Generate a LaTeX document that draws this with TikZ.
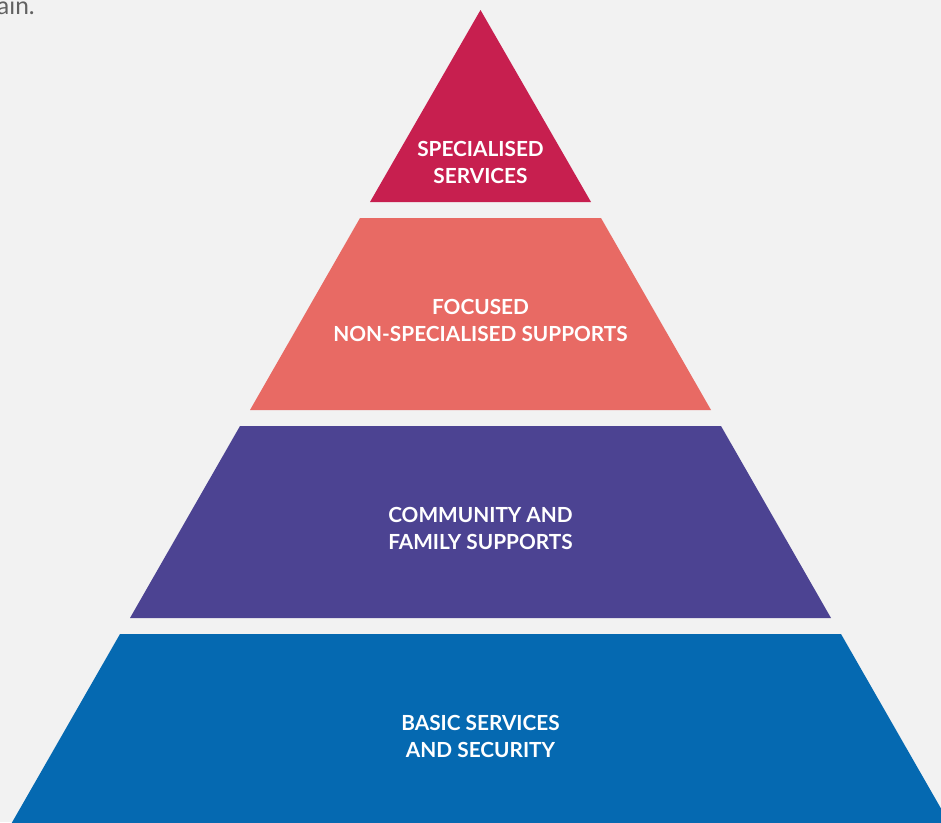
\documentclass[tikz,border=0pt]{standalone}
\usepackage{fontspec}
\setmainfont{Lato}
\usepackage{tikz}
\usetikzlibrary{calc}
\definecolor{pageback}{HTML}{F2F2F2}
\definecolor{tiertop}{HTML}{C71F4F}
\definecolor{tierfocus}{HTML}{E86A64}
\definecolor{tiercommunity}{HTML}{4C4392}
\definecolor{tierbasic}{HTML}{0569B1}
\tikzset{
	tier label/.style={text=white,align=center,font=\bfseries\fontsize{20.8}{27}\selectfont},
	lead text/.style={text=black!62,anchor=base west,inner sep=0pt,font=\fontsize{24.5}{28}\selectfont}
}

\begin{document}
\begin{tikzpicture}[x=1pt,y=-1pt]
		\fill[pageback] (0,0) rectangle (941,822);
		\useasboundingbox (0,0) rectangle (941,822);
		\clip (0,0) rectangle (941,822);
		\node[lead text] (intro) at (-3,14) {ain.};

		\fill[tiertop] (480.5,10) -- (591,202) -- (370,202) -- cycle;
		\fill[tierfocus] (360,218) -- (601,218) -- (711,410) -- (250,410) -- cycle;
		\fill[tiercommunity] (240,426) -- (721,426) -- (831,618) -- (130,618) -- cycle;
		\fill[tierbasic] (120,634) -- (841,634) -- (951,826) -- (10,826) -- cycle;

		\node[tier label] (specialised) at (480.5,162) {SPECIALISED\\SERVICES};
		\node[tier label] (focused) at (480.5,320) {FOCUSED\\NON-SPECIALISED SUPPORTS};
		\node[tier label] (community) at (480.5,528) {COMMUNITY AND\\FAMILY SUPPORTS};
		\node[tier label] (basic) at (480.5,736) {BASIC SERVICES\\AND SECURITY};
	\end{tikzpicture}
\end{document}
